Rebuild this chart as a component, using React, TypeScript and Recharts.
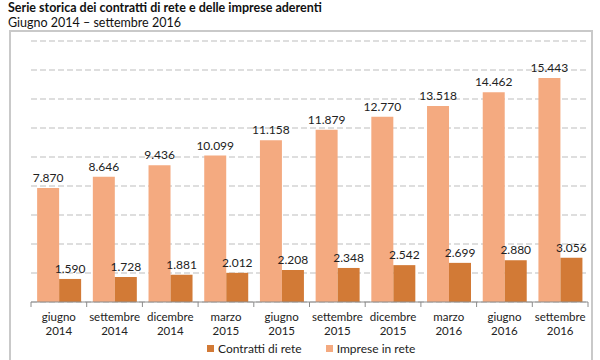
import { BarChart, Bar, XAxis, YAxis, CartesianGrid, LabelList } from 'recharts';

const categories = [
  'giugno 2014',
  'settembre 2014',
  'dicembre 2014',
  'marzo 2015',
  'giugno 2015',
  'settembre 2015',
  'dicembre 2015',
  'marzo 2016',
  'giugno 2016',
  'settembre 2016',
];
const contratti = [1590, 1728, 1881, 2012, 2208, 2348, 2542, 2699, 2880, 3056];
const imprese = [7870, 8646, 9436, 10099, 11158, 11879, 12770, 13518, 14462, 15443];
const yTicks = [0, 2000, 4000, 6000, 8000, 10000, 12000, 14000, 16000, 18000];

const data = categories.map((c, i) => ({ cat: c, contratti: contratti[i], imprese: imprese[i] }));

const W = 600;
const H = 360;
const margin = { top: 41, right: 12, left: 31, bottom: 0 };
const step = (W - margin.left - margin.right) / categories.length;

const DARK = '#D27A36';
const LIGHT = '#F4AA80';
const FONT = 'Lato, "Open Sans", sans-serif';

const fmt = (v: number) => String(v).replace(/\B(?=(\d{3})+(?!\d))/g, '.');

// two-line category label plus tick marks between categories
function CatTick(props: any) {
  const { x, y, payload, index } = props;
  const [a, b] = String(payload.value).split(' ');
  const left = x - step / 2;
  return (
    <g>
      <line x1={left} y1={y} x2={left} y2={y + 5} stroke="#8c8c8c" />
      {index === categories.length - 1 && (
        <line x1={x + step / 2} y1={y} x2={x + step / 2} y2={y + 5} stroke="#8c8c8c" />
      )}
      <text x={x} y={y + 18.5} textAnchor="middle" fontSize={11.5} fill="#222" fontFamily={FONT}>
        {a}
      </text>
      <text x={x} y={y + 32.5} textAnchor="middle" fontSize={11.5} fill="#222" fontFamily={FONT}>
        {b}
      </text>
    </g>
  );
}

export default function App() {
  return (
    <div style={{ position: 'absolute', left: 0, top: 0, width: W, height: H, overflow: 'hidden', background: '#fff', fontFamily: FONT }}>
      <div style={{ position: 'absolute', left: 8, top: 0, fontSize: 12.5, fontWeight: 700, color: '#111' }}>
        Serie storica dei contratti di rete e delle imprese aderenti
      </div>
      <div style={{ position: 'absolute', left: 8, top: 15, fontSize: 12.5, color: '#111' }}>
        Giugno 2014 – settembre 2016
      </div>
      <div
        style={{
          position: 'absolute',
          left: 9,
          top: 30,
          width: 584,
          height: 360,
          border: '2px solid #c9c9c9',
          boxSizing: 'border-box',
        }}
      />
      <div style={{ position: 'absolute', left: 0, top: 0 }}>
        <BarChart width={W} height={H} data={data} margin={margin} barGap={0} barCategoryGap="11%">
          <CartesianGrid vertical={false} stroke="#bdbdbd" strokeDasharray="6 3" />
          <YAxis hide domain={[0, 18000]} ticks={yTicks} />
          <XAxis
            dataKey="cat"
            height={58}
            interval={0}
            tickLine={false}
            tickSize={0}
            tickMargin={0}
            axisLine={{ stroke: '#8c8c8c' }}
            tick={<CatTick />}
          />
          <Bar dataKey="imprese" name="Imprese in rete" fill={LIGHT} isAnimationActive={false}>
            <LabelList dataKey="imprese" position="top" offset={6} formatter={(v: any) => fmt(Number(v))} fontSize={12} fill="#222" fontFamily={FONT} />
          </Bar>
          <Bar dataKey="contratti" name="Contratti di rete" fill={DARK} isAnimationActive={false}>
            <LabelList dataKey="contratti" position="top" offset={6} formatter={(v: any) => fmt(Number(v))} fontSize={12} fill="#222" fontFamily={FONT} />
          </Bar>
        </BarChart>
      </div>
      <div style={{ position: 'absolute', left: 207, top: 341, display: 'flex', alignItems: 'center', fontSize: 12, color: '#222' }}>
        <span style={{ display: 'inline-block', width: 7, height: 7, background: DARK, marginRight: 4 }} />
        <span>Contratti di rete</span>
        <span style={{ display: 'inline-block', width: 7, height: 7, background: LIGHT, marginLeft: 24, marginRight: 4 }} />
        <span>Imprese in rete</span>
      </div>
    </div>
  );
}
